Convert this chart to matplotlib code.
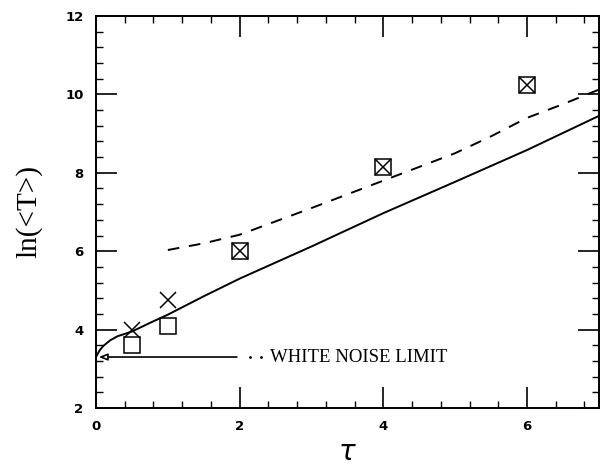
import matplotlib
matplotlib.use("Agg")
import matplotlib.pyplot as plt
from matplotlib.ticker import MultipleLocator

# Data
cross_tau = [0.5, 1.0, 2.0, 4.0, 6.0]
cross_lnT = [4.0, 4.75, 6.0, 8.15, 10.25]
square_tau = [0.5, 1.0, 2.0, 4.0, 6.0]
square_lnT = [3.6, 4.1, 6.0, 8.15, 10.25]

solid_tau = [0.0, 0.05, 0.1, 0.2, 0.3, 0.5, 0.75, 1.0, 1.5, 2.0, 3.0, 4.0, 5.0, 6.0, 7.0]
solid_lnT = [3.3, 3.47, 3.58, 3.73, 3.83, 3.95, 4.17, 4.38, 4.85, 5.3, 6.12, 6.97, 7.77, 8.58, 9.45]

dash_tau = [1.0, 1.5, 2.0, 2.5, 3.0, 3.5, 4.0, 4.5, 5.0, 5.5, 6.0, 6.5, 7.0]
dash_lnT = [6.03, 6.2, 6.42, 6.76, 7.1, 7.45, 7.8, 8.15, 8.5, 8.93, 9.4, 9.75, 10.12]

white_noise = 3.3

fig = plt.figure(figsize=(6.0, 4.66), dpi=100)
ax = fig.add_axes([0.16, 0.1245, 0.838, 0.8412])

ax.plot(solid_tau, solid_lnT, color="black", lw=1.4)
ax.plot(dash_tau, dash_lnT, color="black", lw=1.4, linestyle=(0, (6, 5)))
ax.plot(cross_tau, cross_lnT, linestyle="none", marker="x", ms=11, mew=1.1, color="black")
ax.plot(square_tau, square_lnT, linestyle="none", marker="s", ms=11, mew=1.1,
        mfc="none", mec="black")

ax.annotate("", xy=(0.0, white_noise), xytext=(2.0, white_noise),
            arrowprops=dict(arrowstyle="-|>,head_length=0.5,head_width=0.2",
                            fc="white", ec="black", lw=1.2))
ax.plot([2.15, 2.3], [white_noise, white_noise], linestyle="none", marker=".",
        ms=2, color="black")
ax.text(2.42, white_noise, "WHITE NOISE LIMIT", family="Liberation Serif",
        fontsize=13.5, va="center", ha="left")

ax.set_xlim(0, 7)
ax.set_ylim(2, 12)
ax.xaxis.set_major_locator(MultipleLocator(2))
ax.xaxis.set_minor_locator(MultipleLocator(0.4))
ax.yaxis.set_major_locator(MultipleLocator(2))
ax.yaxis.set_minor_locator(MultipleLocator(0.4))
ax.tick_params(which="both", direction="in", top=True, right=True, color="black")
ax.tick_params(which="major", length=15, width=1.2, labelsize=9.5)
ax.tick_params(axis="x", which="major", pad=9)
ax.tick_params(axis="y", which="major", pad=9)
ax.tick_params(which="minor", length=5, width=1.0)
for lab in ax.get_xticklabels() + ax.get_yticklabels():
    lab.set_fontweight("bold")
for s in ax.spines.values():
    s.set_linewidth(1.4)

ax.set_xlabel(r"$\tau$", fontsize=20, family="DejaVu Serif", labelpad=4)
ax.set_ylabel("ln(<T>)", fontsize=21, family="Liberation Serif", labelpad=16)

fig.savefig("out.png", dpi=100)
